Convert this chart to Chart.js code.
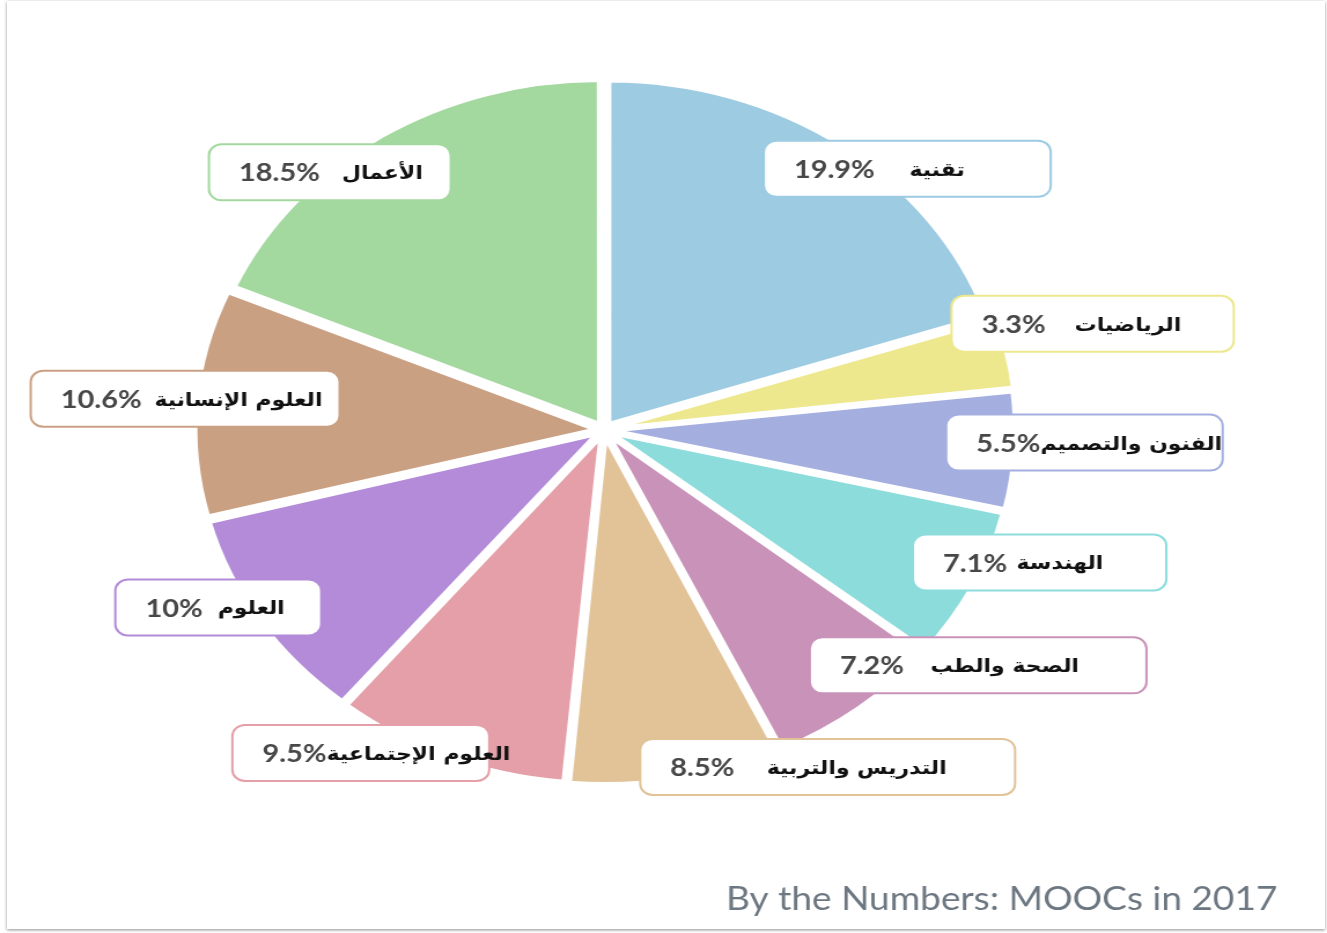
<!DOCTYPE html>
<html lang="ar">
<head>
<meta charset="utf-8">
<script src="https://cdn.jsdelivr.net/npm/chart.js@4.4.1/dist/chart.umd.min.js"></script>
<style>
html,body{margin:0;padding:0;background:#fff;}
body{width:1327px;height:933px;position:relative;overflow:hidden;}
.card{position:absolute;left:7px;top:1px;width:1318px;height:928px;background:#fff;box-shadow:0 1px 3px rgba(0,0,0,.45);}
#wrap{position:absolute;left:0;top:0;width:1147px;height:933px;transform:scaleX(1.157);transform-origin:0 0;}
</style>
</head>
<body>
<div class="card"></div>
<div id="wrap"><canvas id="mooc" width="1147" height="933"></canvas></div>
<script>
// subjects, clockwise from 12 o'clock
const subjects=['تقنية','الرياضيات','الفنون والتصميم','الهندسة','الصحة والطب','التدريس والتربية','العلوم الإجتماعية','العلوم','العلوم الإنسانية','الأعمال'];
const shares=[19.9,3.3,5.5,7.1,7.2,8.5,9.5,10,10.6,18.5];
const shareText=['19.9%','3.3%','5.5%','7.1%','7.2%','8.5%','9.5%','10%','10.6%','18.5%'];
const sliceColors=['#9ccbe2','#ede88e','#a4afe0','#8ddcdc','#c992b9','#e1c397','#e49fa8','#b38bd9','#caa083','#a3d99f'];
const footer='By the Numbers: MOOCs in 2017';

// label boxes: turn (deg) from slice middle, reach (x outer radius), box width, gap before the name
const labelTurn=[9,-2,-2,-7,-16,-20,11,5,1,-9];
const labelReach=[1.085,1.272,1.211,1.161,1.161,1.125,1.116,1.097,1.060,1.027];
const boxWidth=[248,244,239,219,291,324,222,178,267,209];
const nameGap=[30,25,0,8,23,28,0,13,11,19];

const labelBoxes={
  id:'labelBoxes',
  afterDatasetsDraw(chart){
    const ctx=chart.ctx;
    const meta=chart.getDatasetMeta(0);
    ctx.save();
    meta.data.forEach((arc,i)=>{
      const mid=(arc.startAngle+arc.endAngle)/2+labelTurn[i]*Math.PI/180;
      const d=arc.outerRadius*labelReach[i];
      const cx=arc.x+Math.cos(mid)*d, cy=arc.y+Math.sin(mid)*d+3;
      const w=boxWidth[i], h=56, x=cx-w/2, y=cy-h/2;
      ctx.beginPath();
      ctx.roundRect(x,y,w,h,11);
      ctx.fillStyle='#fff';ctx.fill();
      ctx.lineWidth=2;ctx.strokeStyle=sliceColors[i];ctx.stroke();
      ctx.textAlign='left';ctx.textBaseline='middle';
      ctx.font='700 25px Lato';ctx.fillStyle='#474747';
      ctx.fillText(shareText[i],x+26,cy+1);
      const pw=ctx.measureText(shareText[i]).width;
      ctx.font='bold 19px "DejaVu Sans"';ctx.fillStyle='#111';
      ctx.fillText(subjects[i],x+26+pw+nameGap[i],cy+2);
    });
    ctx.font='32px Lato';ctx.fillStyle='#6d7781';
    ctx.textAlign='right';ctx.textBaseline='alphabetic';
    ctx.fillText(footer,1104,910);
    ctx.restore();
  }
};

new Chart(document.getElementById('mooc'),{
  type:'pie',
  data:{labels:subjects,datasets:[{data:shares,backgroundColor:sliceColors,borderColor:'#fff',borderWidth:4,offset:30}]},
  options:{
    responsive:false,animation:false,events:[],
    layout:{padding:{left:162,top:70,right:265,bottom:143}},
    plugins:{legend:{display:false},tooltip:{enabled:false}}
  },
  plugins:[labelBoxes]
});
</script>
</body>
</html>
